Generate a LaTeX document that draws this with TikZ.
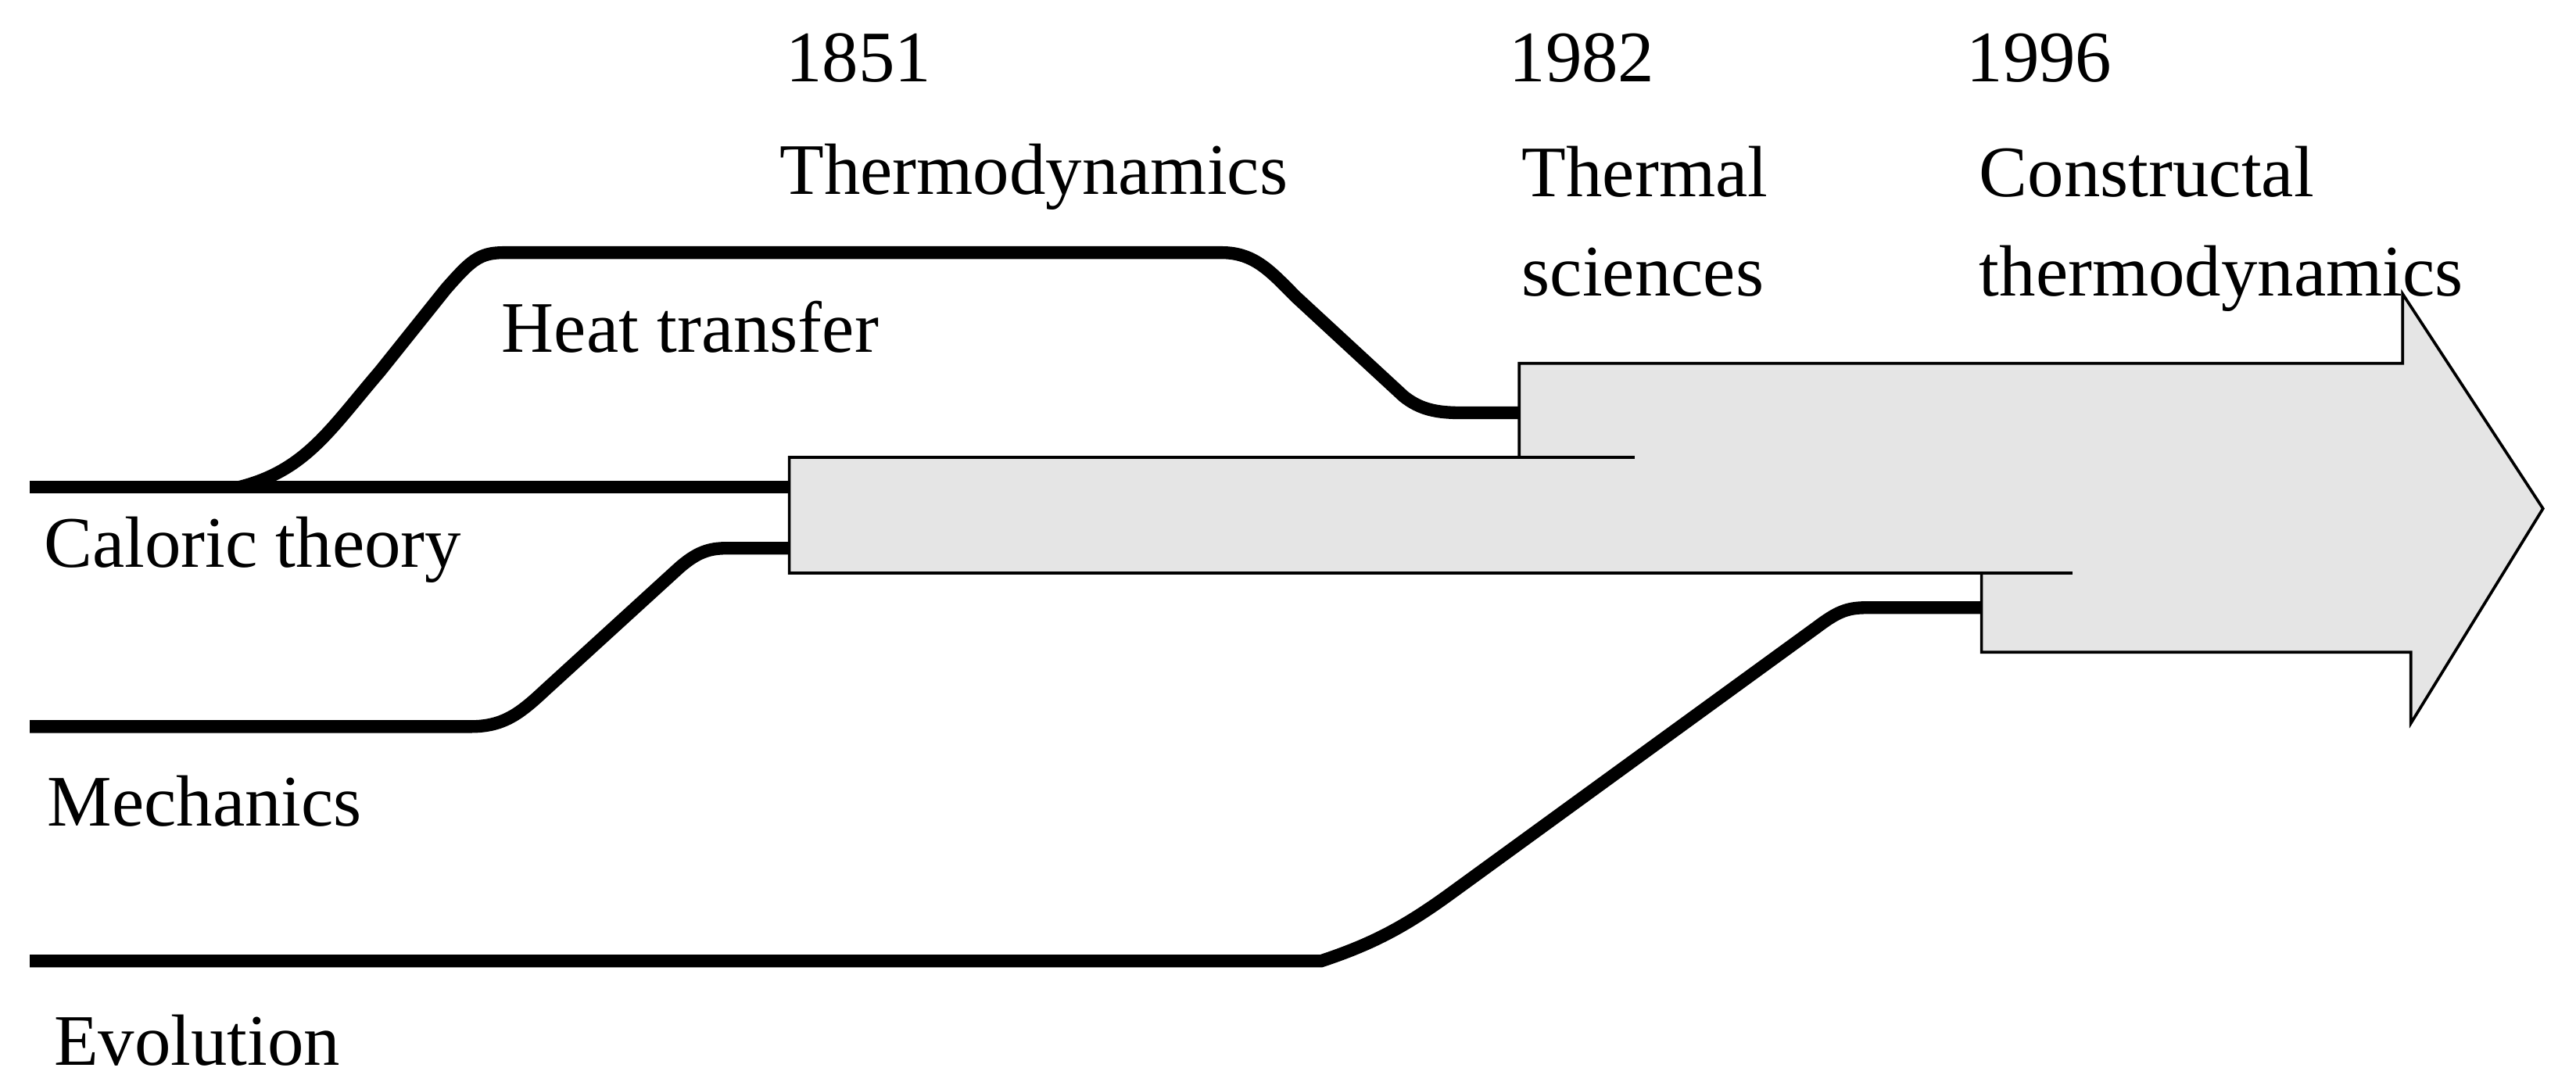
\documentclass[tikz,border=0pt]{standalone}
\usepackage{fontspec}
\setmainfont{Liberation Serif}
\usetikzlibrary{positioning}
\tikzset{every node/.style={align=left, inner sep=0pt}, lbl/.style={font=\fontsize{12.5}{17}\selectfont},
  branch/.style={line width=2.2pt}, band/.style={fill=gray!20, draw=black, line width=0.5pt}}

\begin{document}
\begin{tikzpicture}[x=0.01cm, y=-0.01cm]
\useasboundingbox (0,0) rectangle (1560,655);
% grey band and arrow
\draw[band] (920,220) -- (1455,220) -- (1455,178) -- (1540,308) -- (1460,438) -- (1460,395)
  -- (1200,395) -- (1200,347) -- (478,347) -- (478,277) -- (920,277) -- cycle;
\draw[line width=0.5pt] (920,277) -- (990,277) (1200,347) -- (1255,347);
% branch ends
\coordinate (cal0) at (18,295); \coordinate (cal1) at (478,295);
\coordinate (mec0) at (18,440); \coordinate (mec1) at (478,332);
\coordinate (evo0) at (18,582); \coordinate (evo1) at (1200,368);
\coordinate (ht0) at (145,295); \coordinate (ht1) at (920,250);
\draw[branch] (cal0) -- (cal1);
\draw[branch] (ht0) .. controls (185,285) and (200,260) .. (230,225) -- (270,175)
  .. controls (285,158) and (290,153) .. (305,153) -- (740,153)
  .. controls (760,153) and (770,165) .. (785,180) -- (850,240)
  .. controls (860,248) and (870,250) .. (885,250) -- (ht1);
\draw[branch] (mec0) -- (285,440) .. controls (305,440) and (315,432) .. (330,418) -- (410,345)
  .. controls (422,334) and (430,332) .. (440,332) -- (mec1);
\draw[branch] (evo0) -- (800,582) .. controls (830,572) and (850,562) .. (880,540) -- (1100,380)
  .. controls (1112,371) and (1118,368) .. (1130,368) -- (evo1);
% labels
\node[lbl] (y1851) at (520,35) {1851};
\node[lbl] (y1982) at (958,35) {1982};
\node[lbl] (y1996) at (1235,35) {1996};
\node[lbl] (thermo) at (626,107) {Thermodynamics};
\node[lbl, anchor=north west] (thsci) at (921,88) {Thermal\\sciences};
\node[lbl, anchor=north west] (const) at (1198,88) {Constructal\\thermodynamics};
\node[lbl] (heat) at (418,198) {Heat transfer};
\node[lbl, anchor=west] (caloric) at (26,333) {Caloric theory};
\node[lbl, anchor=west] (mech) at (28,485) {Mechanics};
\node[lbl, anchor=west] (evol) at (32,630) {Evolution};
\end{tikzpicture}
\end{document}
